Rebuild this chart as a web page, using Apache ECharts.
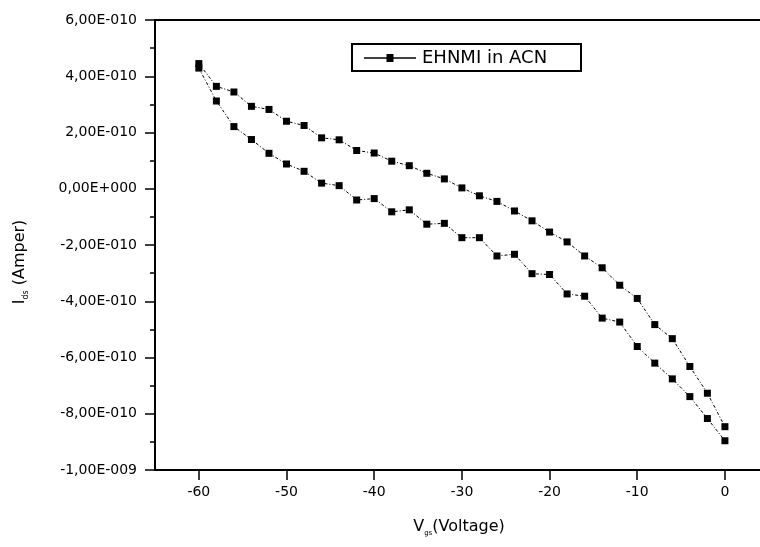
<!DOCTYPE html>
<html>
<head>
<meta charset="utf-8">
<script src="https://cdn.jsdelivr.net/npm/echarts@6/dist/echarts.min.js"></script>
<style>html,body{margin:0;padding:0;background:#fff}#c{width:760px;height:547px}</style>
</head>
<body>
<div id="c"></div>
<script>
// Gate voltage (V)
var voltage = [-60,-58,-56,-54,-52,-50,-48,-46,-44,-42,-40,-38,-36,-34,-32,-30,-28,-26,-24,-22,-20,-18,-16,-14,-12,-10,-8,-6,-4,-2,0];
// Ids in units of 1e-10 A, lower branch
var idsLower = [4.29,3.12,2.21,1.75,1.26,0.88,0.62,0.20,0.11,-0.40,-0.35,-0.82,-0.75,-1.26,-1.23,-1.74,-1.74,-2.39,-2.33,-3.02,-3.05,-3.74,-3.82,-4.60,-4.74,-5.61,-6.20,-6.76,-7.39,-8.17,-8.96];
// Ids in units of 1e-10 A, upper branch
var idsUpper = [4.45,3.64,3.44,2.93,2.82,2.40,2.25,1.81,1.74,1.36,1.27,0.98,0.82,0.55,0.35,0.03,-0.25,-0.45,-0.79,-1.14,-1.54,-1.89,-2.39,-2.81,-3.43,-3.90,-4.83,-5.33,-6.32,-7.27,-8.46];
var xTicks = [-60,-50,-40,-30,-20,-10,0];
var seriesName = 'EHNMI in ACN';
var xName = ['V', 'gs', '(Voltage)'];
var yName = ['I', 'ds', ' (Amper)'];
var yScale = 1e-10;

function fmtY(v) {
  var real = v * yScale;
  if (Math.abs(v) < 1e-9) return '0,00E+000';
  var s = real.toExponential(2).split('e');
  var m = s[0].replace('.', ',');
  var e = parseInt(s[1], 10);
  var es = (e < 0 ? '-' : '+') + ('000' + Math.abs(e)).slice(-3);
  return m + 'E' + es;
}

function pairs(ys) { return voltage.map(function (x, i) { return [x, ys[i]]; }); }

var FONT = 'DejaVu Sans';
var chart = echarts.init(document.getElementById('c'), null, {renderer: 'canvas'});
var lineStyle = {color: '#000', width: 1, type: [3, 2, 1, 2]};
var itemStyle = {color: '#000'};

chart.setOption({
  animation: false,
  backgroundColor: '#fff',
  grid: {left: 155, right: 0, top: 20, bottom: 77, show: false},
  xAxis: [{
    type: 'value', min: -65, max: 4, interval: 10, position: 'bottom',
    axisLine: {onZero: false, lineStyle: {color: '#000', width: 2}},
    axisTick: {length: 10, lineStyle: {width: 1.5, color: '#000'}, customValues: xTicks},
    minorTick: {show: true, splitNumber: 2, length: 5, lineStyle: {width: 1.5, color: '#000'}},
    axisLabel: {color: '#000', fontFamily: FONT, fontSize: 14, margin: 15, customValues: xTicks},
    splitLine: {show: false}
  }, {
    type: 'value', min: -65, max: 4, position: 'top',
    axisLine: {onZero: false, lineStyle: {color: '#000', width: 2}},
    axisTick: {show: false}, axisLabel: {show: false}, splitLine: {show: false}
  }],
  yAxis: {
    type: 'value', min: -10, max: 6, interval: 2,
    axisLine: {onZero: false, lineStyle: {color: '#000', width: 2}},
    axisTick: {length: 10, lineStyle: {width: 1.5, color: '#000'}},
    minorTick: {show: true, splitNumber: 2, length: 5, lineStyle: {width: 1.5, color: '#000'}},
    axisLabel: {color: '#000', fontFamily: FONT, fontSize: 14, margin: 18, formatter: fmtY},
    splitLine: {show: false}
  },
  series: [
    {name: seriesName, type: 'line', data: pairs(idsLower), symbol: 'rect', symbolSize: 7, lineStyle: lineStyle, itemStyle: itemStyle},
    {name: seriesName, type: 'line', data: pairs(idsUpper), symbol: 'rect', symbolSize: 7, lineStyle: lineStyle, itemStyle: itemStyle}
  ],
  graphic: [
    {type: 'rect', shape: {x: 352, y: 44, width: 229, height: 27}, style: {fill: '#fff', stroke: '#000', lineWidth: 2}, z: 10},
    {type: 'line', shape: {x1: 364, y1: 58, x2: 416, y2: 58}, style: {stroke: '#000', lineWidth: 1.5}, z: 11},
    {type: 'rect', shape: {x: 386.5, y: 54, width: 7, height: 8}, style: {fill: '#000'}, z: 12},
    {type: 'text', x: 422, y: 58, z: 12, style: {text: seriesName, fontFamily: FONT, fontSize: 18, fill: '#000', align: 'left', verticalAlign: 'middle'}},
    {type: 'text', x: 459, y: 527, z: 12, style: {
      text: '{a|' + xName[0] + '}{s|' + xName[1] + '}{a|' + xName[2] + '}',
      align: 'center', verticalAlign: 'middle', fill: '#000',
      rich: {a: {fontFamily: FONT, fontSize: 16, lineHeight: 20, color: '#000'},
             s: {fontFamily: FONT, fontSize: 7, lineHeight: 20, color: '#999', verticalAlign: 'bottom'}}
    }},
    {type: 'text', x: 20, y: 262, rotation: Math.PI / 2, z: 12, style: {
      text: '{a|' + yName[0] + '}{s|' + yName[1] + '}{a|' + yName[2] + '}',
      align: 'center', verticalAlign: 'middle', fill: '#000',
      rich: {a: {fontFamily: FONT, fontSize: 16, lineHeight: 20, color: '#000'},
             s: {fontFamily: FONT, fontSize: 8, lineHeight: 20, color: '#777', verticalAlign: 'bottom'}}
    }}
  ]
});
</script>
</body>
</html>
